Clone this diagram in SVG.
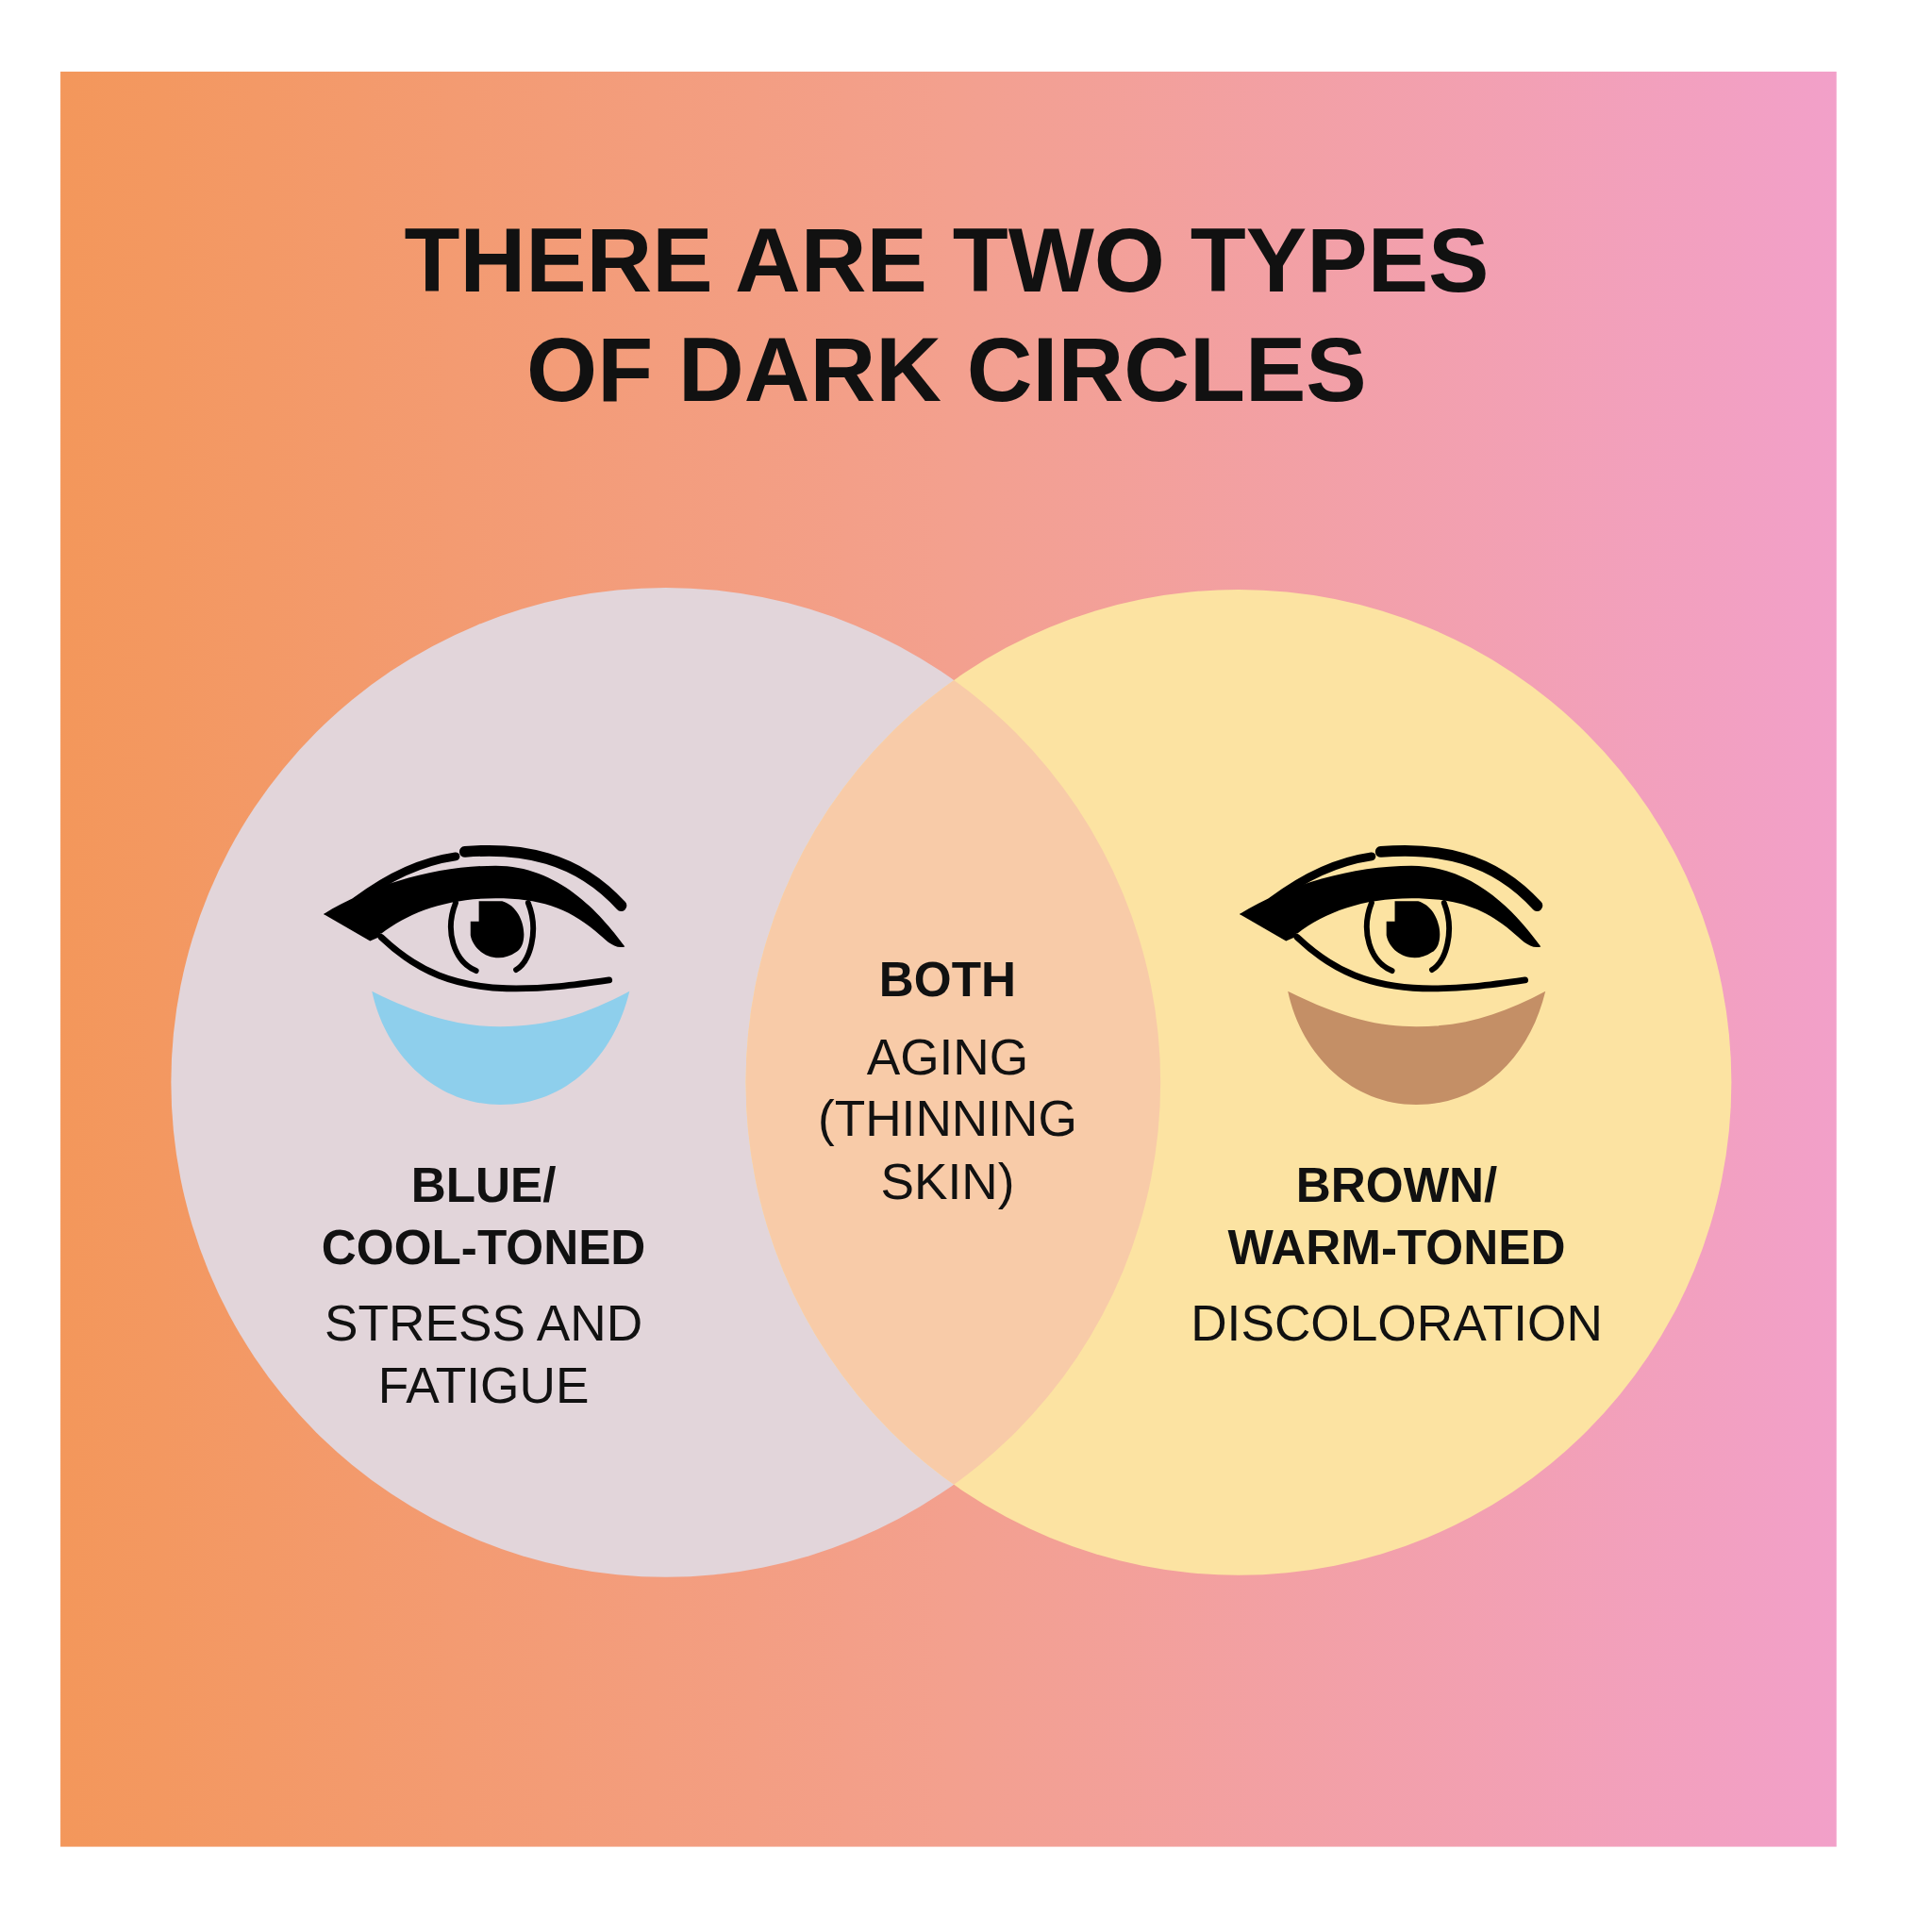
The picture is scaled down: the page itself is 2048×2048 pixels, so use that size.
<svg xmlns="http://www.w3.org/2000/svg" width="2048" height="2048" viewBox="0 0 2048 2048">
<defs>
<linearGradient id="bg" x1="0" y1="0" x2="1" y2="0"><stop offset="0" stop-color="#F3975B"/><stop offset="0.5" stop-color="#F3A08E"/><stop offset="1" stop-color="#F2A0C9"/></linearGradient>
<clipPath id="lc"><circle cx="716" cy="1164" r="532"/></clipPath>
<style>
.t{font-family:"Liberation Sans",Arial,sans-serif;fill:#111;text-anchor:middle}
.h{font-size:98px;font-weight:bold}
.b{font-size:52px;font-weight:bold}
.r{font-size:54px}
.ink{fill:#000}
.line{fill:none;stroke:#000;stroke-linecap:round}
</style>
<g id="eye">
<path class="ink" d="M348,967 C400,935 470,915 533,915 C600,915 645,965 672,1002 C660,1005 652,995 640,985 C610,960 580,950 533,950 C480,950 440,965 410,988 Z"/>
<path class="ink" d="M348,967 L372,960 L412,990 L398,996 Z"/>
<path class="line" stroke-width="9" d="M383,953 C420,925 455,910 490,905"/>
<path class="line" stroke-width="12" d="M500,900 C560,895 620,905 668,958"/>
<path class="line" stroke-width="7" d="M410,992 C450,1030 490,1045 545,1047 C585,1048 620,1043 655,1038"/>
<path class="line" stroke-width="6" d="M490,955 C478,985 488,1018 512,1028"/>
<path class="line" stroke-width="6" d="M568,955 C580,985 570,1018 555,1027"/>
<path class="ink" d="M515,953 L540,953 C565,960 570,1000 555,1008 C535,1022 510,1010 506,990 L506,975 L515,975 Z"/>
</g>
<path id="moon" d="M400,1050 C460,1080 500,1088 538,1088 C590,1088 630,1075 677,1050 C660,1120 610,1172 538,1172 C470,1172 415,1120 400,1050 Z"/>
</defs>
<g transform="scale(0.9857)">
<rect x="65" y="77" width="1910" height="1909" fill="url(#bg)"/>
<g id="left-circle"><circle cx="716" cy="1164" r="532" fill="#E2D5DA"/></g>
<g id="right-circle"><circle cx="1332" cy="1164" r="530" fill="#FCE3A2"/>
<circle cx="1332" cy="1164" r="530" fill="#F8CBA8" clip-path="url(#lc)"/></g>
<g id="title">
<text class="t h" x="1018" y="314">THERE ARE TWO TYPES</text>
<text class="t h" x="1018" y="431">OF DARK CIRCLES</text>
</g>
<g id="blue-node">
<use href="#eye" y="16"/>
<use href="#moon" y="16" fill="#8ECFEC"/>
<text class="t b" x="520" y="1292">BLUE/</text>
<text class="t b" x="520" y="1359">COOL-TONED</text>
<text class="t r" x="520" y="1442">STRESS AND</text>
<text class="t r" x="520" y="1509">FATIGUE</text>
</g>
<g id="both-node">
<text class="t b" x="1019" y="1071">BOTH</text>
<text class="t r" x="1019" y="1156">AGING</text>
<text class="t r" x="1019" y="1221">(THINNING</text>
<text class="t r" x="1019" y="1289">SKIN)</text>
</g>
<g id="brown-node">
<use href="#eye" x="985" y="16"/>
<use href="#moon" x="985" y="16" fill="#C48F66"/>
<text class="t b" x="1502" y="1292">BROWN/</text>
<text class="t b" x="1502" y="1359">WARM-TONED</text>
<text class="t r" x="1502" y="1442">DISCOLORATION</text>
</g>
<g id="connectors"/>
</g>
</svg>
